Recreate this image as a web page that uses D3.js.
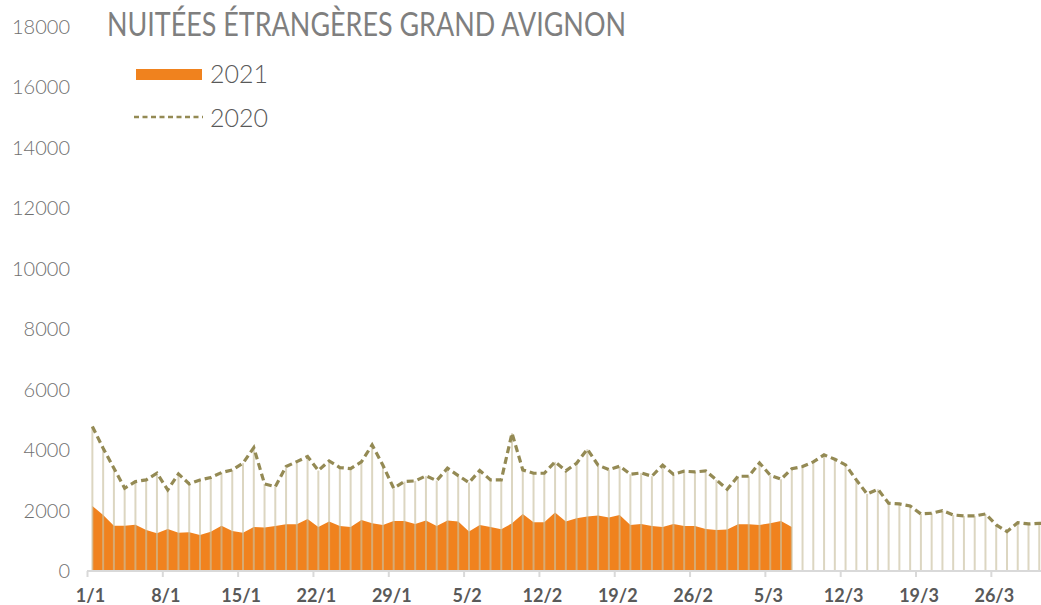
<!DOCTYPE html>
<html>
<head>
<meta charset="utf-8">
<script src="https://cdn.jsdelivr.net/npm/d3@7/dist/d3.min.js"></script>
<style>
  html, body { margin: 0; padding: 0; background: #fff; }
  svg { display: block; }
</style>
</head>
<body>
<div id="chart"></div>
<script>
// categories: one point per day, 1/1 -> 31/3
const days = d3.timeDay.range(new Date(2021, 0, 1), new Date(2021, 3, 1)).map(d3.timeFormat('%-d/%-m'));
const tickLabels = ['1/1', '8/1', '15/1', '22/1', '29/1', '5/2', '12/2', '19/2', '26/2', '5/3', '12/3', '19/3', '26/3'];
const yTicks = [0, 2000, 4000, 6000, 8000, 10000, 12000, 14000, 16000, 18000];

// nuitées 2020 (dashed line), 90 days
const nuitees2020 = [
  4775, 4060, 3398, 2736, 2956, 3011, 3232, 2680, 3210, 2879,
  3011, 3088, 3253, 3342, 3564, 4080, 2879, 2790, 3453, 3617,
  3783, 3320, 3640, 3419, 3386, 3607, 4169, 3497, 2736, 2956,
  2978, 3143, 2989, 3398, 3154, 2923, 3320, 3011, 3011, 4556,
  3342, 3232, 3232, 3607, 3309, 3563, 4026, 3497, 3353, 3464,
  3199, 3243, 3133, 3497, 3199, 3298, 3276, 3309, 3011, 2702,
  3133, 3133, 3574, 3166, 3033, 3380, 3453, 3607, 3838, 3695,
  3508, 3011, 2548, 2702, 2239, 2217, 2151, 1886, 1908, 1997,
  1853, 1820, 1820, 1886, 1522, 1302, 1599, 1555, 1577, 1580
];

// nuitées 2021 (orange area), up to 7/3
const nuitees2021 = [
  2151, 1853, 1500, 1500, 1533, 1357, 1246, 1390, 1268, 1280,
  1191, 1301, 1500, 1324, 1268, 1456, 1434, 1489, 1544, 1544,
  1721, 1456, 1633, 1489, 1456, 1688, 1577, 1522, 1655, 1655,
  1555, 1666, 1489, 1666, 1633, 1302, 1522, 1456, 1379, 1577,
  1886, 1610, 1610, 1931, 1640, 1743, 1798, 1831, 1765, 1853,
  1522, 1555, 1489, 1456, 1555, 1489, 1489, 1390, 1357, 1368,
  1544, 1544, 1522, 1577, 1655, 1456
];

const width = 1041;
const height = 605;
const font = 'Lato, "Open Sans", sans-serif';

const svg = d3.select('#chart').append('svg')
  .attr('width', width)
  .attr('height', height);

const x = d3.scaleLinear().domain([0, days.length]).range([87, 87 + days.length * 10.76]);
const y = d3.scaleLinear().domain([0, 18000]).range([571, 26.5]);

// y labels (no axis line)
svg.append('g')
  .selectAll('text')
  .data(yTicks)
  .join('text')
  .attr('x', 70)
  .attr('y', d => y(d))
  .attr('dy', '0.36em')
  .attr('text-anchor', 'end')
  .attr('font-family', font)
  .attr('font-weight', 300)
  .attr('font-size', 20)
  .attr('fill', '#707070')
  .text(d => d);

// 2021 area
const area = d3.area()
  .x((d, i) => x(i + 0.5))
  .y0(y(0))
  .y1(d => y(d));

svg.append('path')
  .datum(nuitees2021)
  .attr('fill', '#F0821E')
  .attr('d', area);

// drop lines from 2020 curve down to axis
svg.append('g')
  .attr('stroke', '#C9C0A0')
  .attr('stroke-opacity', 0.65)
  .attr('stroke-width', 2)
  .selectAll('line')
  .data(nuitees2020)
  .join('line')
  .attr('x1', (d, i) => x(i + 0.5))
  .attr('x2', (d, i) => x(i + 0.5))
  .attr('y1', d => y(d))
  .attr('y2', y(0));

// 2020 dashed line
const line = d3.line()
  .x((d, i) => x(i + 0.5))
  .y(d => y(d));

svg.append('path')
  .datum(nuitees2020)
  .attr('fill', 'none')
  .attr('stroke', '#948A54')
  .attr('stroke-width', 3.2)
  .attr('stroke-dasharray', '7,4')
  .attr('d', line);

// x axis
const xAxis = svg.append('g')
  .attr('transform', `translate(0,${y(0)})`)
  .call(d3.axisBottom(x)
    .tickValues(tickLabels.map(t => days.indexOf(t)))
    .tickFormat(i => days[i])
    .tickSize(6)
    .tickPadding(12));

xAxis.select('.domain')
  .attr('stroke', '#D9D9D9')
  .attr('stroke-width', 2)
  .attr('d', `M${x(0)},0H${x(days.length)}`);
xAxis.selectAll('.tick line').attr('stroke', '#D9D9D9').attr('stroke-width', 2);
xAxis.selectAll('.tick text')
  .attr('dx', 3)
  .attr('font-family', font)
  .attr('font-weight', 700)
  .attr('font-size', 18)
  .attr('fill', '#595959');

// title
svg.append('text')
  .attr('x', 107)
  .attr('y', 36)
  .attr('font-family', font)
  .attr('font-size', 32)
  .attr('fill', '#7F7F7F')
  .attr('textLength', 519)
  .attr('lengthAdjust', 'spacingAndGlyphs')
  .text('NUITÉES ÉTRANGÈRES GRAND AVIGNON');

// legend
svg.append('rect')
  .attr('x', 136).attr('y', 69)
  .attr('width', 66).attr('height', 11)
  .attr('fill', '#F0821E');

svg.append('line')
  .attr('x1', 134).attr('x2', 203)
  .attr('y1', 117).attr('y2', 117)
  .attr('stroke', '#948A54')
  .attr('stroke-width', 2.5)
  .attr('stroke-dasharray', '5,3.5');

svg.append('g')
  .selectAll('text')
  .data([['2021', 83], ['2020', 127]])
  .join('text')
  .attr('x', 210)
  .attr('y', d => d[1])
  .attr('font-family', font)
  .attr('font-weight', 300)
  .attr('font-size', 25)
  .attr('fill', '#595959')
  .text(d => d[0]);
</script>
</body>
</html>
